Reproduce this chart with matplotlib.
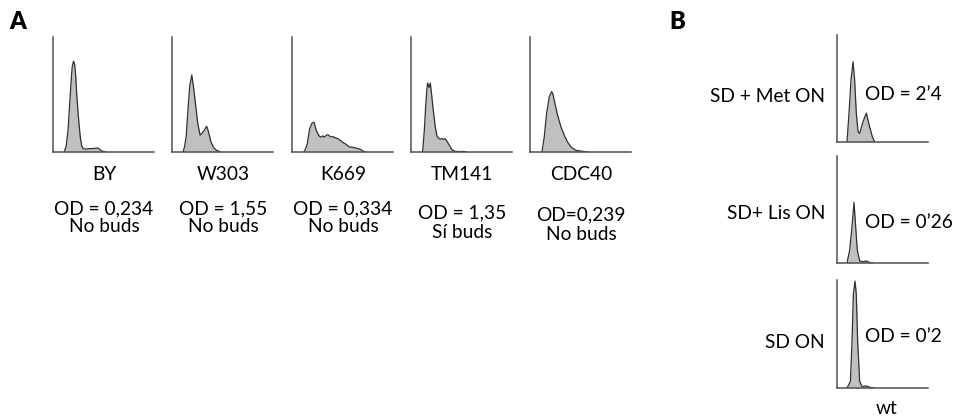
import matplotlib
matplotlib.use("Agg")
import matplotlib.pyplot as plt

plt.rcParams['font.family'] = ['Lato', 'DejaVu Sans']

W, H = 958, 418

# panel A: strains, x in % of axis width, y in % of axis height
strains = ["BY", "W303", "K669", "TM141", "CDC40"]
od_a = ["OD = 0,234", "OD = 1,55", "OD = 0,334", "OD = 1,35", "OD=0,239"]
buds_a = ["No buds", "No buds", "No buds", "Sí buds", "No buds"]

by_x = [11, 13, 15, 16.5, 18, 19, 20.3, 21.5, 22.5, 23.5, 25, 27, 28.5, 30, 33, 36, 40, 44, 46, 48, 52]
by_y = [0, 5, 20, 42, 62, 74, 79, 76, 66, 50, 32, 13, 5, 3, 2.5, 3, 3, 3.5, 2.5, 1, 0]

w303_x = [11, 12.5, 14, 16, 17.5, 19.6, 21.5, 23.5, 25.5, 27.8, 30, 32, 34.3, 36, 38.5, 41, 44, 48]
w303_y = [0, 5, 13, 39, 57, 67, 55, 40, 25, 14.6, 16.5, 19, 22.4, 18, 9, 4, 1.5, 0]

k669_x = [11.8, 13.5, 15.1, 17.4, 19.7, 21.7, 23, 24, 25.5, 27.3, 28.9, 30.5, 32.2, 33.8, 35.5, 37, 38.8, 40.5,
          42.1, 43.8, 45.4, 47, 48.7, 51, 53.6, 55, 56.9, 59, 61.8, 64, 66.8, 68.5, 70, 73.4]
k669_y = [0, 3, 7, 20, 25, 26, 22, 19, 16, 13.5, 13, 14, 13, 14.5, 15, 14, 13, 13.5,
          12.5, 12, 11.7, 10.5, 9.6, 8, 6.7, 5.5, 4.4, 4.2, 3.8, 3.2, 2.6, 2, 0.9, 0]

tm141_x = [11.5, 13.2, 14.5, 15.5, 16.4, 17.8, 19.1, 20.4, 21.7, 24, 25.7, 27.3, 29, 30.6, 32.3, 33.9, 35.5,
           37.2, 40.5, 43.8, 48, 52, 55]
tm141_y = [0, 19, 39, 52, 60, 56, 60, 50, 39, 22, 14, 12, 11, 11.7, 11, 11.5, 9.5,
           7, 2, 0.5, 0.3, 0.5, 0]

cdc40_x = [11.8, 14.1, 16.4, 19.1, 21.4, 22.5, 24, 25.5, 27.3, 30.6, 33.9, 37.2, 40.5, 45.4, 52, 56.9]
cdc40_y = [0, 13, 33.5, 48, 52.5, 51, 45, 39, 32, 22, 14.6, 8.7, 4.4, 1.5, 0.6, 0]

# panel B: wt in three media
media = ["SD + Met ON", "SD+ Lis ON", "SD ON"]
od_b = ["OD = 2\u20194", "OD = 0\u201926", "OD = 0\u20192"]

met_x = [11, 13.2, 15.4, 17.6, 19.4, 21.2, 23.1, 24.9, 28.6, 32.2, 35.9, 38.8, 41.4]
met_y = [0, 27, 58, 75, 58, 27, 10, 8, 19, 27, 14, 5, 0]

lis_x = [11, 13.9, 16.5, 18.7, 20.5, 22.3, 24.9, 28.6, 32.2, 35.9, 39.6]
lis_y = [0, 12, 34, 56.7, 34, 12, 2, 1.2, 1.9, 0.5, 0]

sd_x = [11, 14.7, 16.5, 18, 19.8, 21.2, 22.7, 24.9, 27.8, 32.2, 36.6, 41.4]
sd_y = [0, 6, 43, 87, 99, 87, 43, 6, 1.2, 1.9, 0.5, 0]

a_curves = [(by_x, by_y), (w303_x, w303_y), (k669_x, k669_y), (tm141_x, tm141_y), (cdc40_x, cdc40_y)]
b_curves = [(met_x, met_y), (lis_x, lis_y), (sd_x, sd_y)]


def add_ax(fig, left, top, right, bottom):
    ax = fig.add_axes([left / W, 1 - bottom / H, (right - left) / W, (bottom - top) / H])
    ax.set_xlim(0, 100)
    ax.set_ylim(0, 100)
    ax.set_xticks([])
    ax.set_yticks([])
    ax.spines['top'].set_visible(False)
    ax.spines['right'].set_visible(False)
    for s in ['left', 'bottom']:
        ax.spines[s].set_color('#505050')
        ax.spines[s].set_linewidth(1.1)
    ax.patch.set_alpha(0)
    return ax


def draw_hist(ax, x, y):
    ax.fill_between(x, y, 0, color='#c0c0c0', lw=0)
    ax.plot(x, y, color='#303030', lw=0.9)


def txt(fig, x, y, s, **kw):
    fig.text(x / W, 1 - y / H, s, **kw)


fig = plt.figure(figsize=(W / 100, H / 100), dpi=100)

fs = 13.8
a_lefts = [53, 172, 292, 411, 530]
od_rows = [209, 209, 209, 213, 215]
bud_rows = [227, 227, 227, 232, 234]
for i, left in enumerate(a_lefts):
    ax = add_ax(fig, left, 37, left + 101, 152)
    draw_hist(ax, *a_curves[i])
    cx = left + 51
    txt(fig, cx, 174, strains[i], ha='center', va='center', fontsize=fs)
    txt(fig, cx, od_rows[i], od_a[i], ha='center', va='center', fontsize=fs)
    txt(fig, cx, bud_rows[i], buds_a[i], ha='center', va='center', fontsize=fs)

b_rows = [(35, 142), (156, 263), (280, 388)]
b_lbl_y = [96, 213, 343]
b_od_y = [95, 223, 337]
for i, (top, bottom) in enumerate(b_rows):
    ax = add_ax(fig, 837, top, 928, bottom)
    draw_hist(ax, *b_curves[i])
    txt(fig, 825, b_lbl_y[i], media[i], ha='right', va='center', fontsize=fs)
    txt(fig, 865, b_od_y[i], od_b[i], ha='left', va='center', fontsize=fs)

txt(fig, 887, 409, "wt", ha='center', va='center', fontsize=fs)

txt(fig, 18, 22, "A", ha='center', va='center', fontsize=17, fontweight='heavy')
txt(fig, 677, 22, "B", ha='center', va='center', fontsize=17, fontweight='heavy')

fig.savefig("out.png", dpi=100)
